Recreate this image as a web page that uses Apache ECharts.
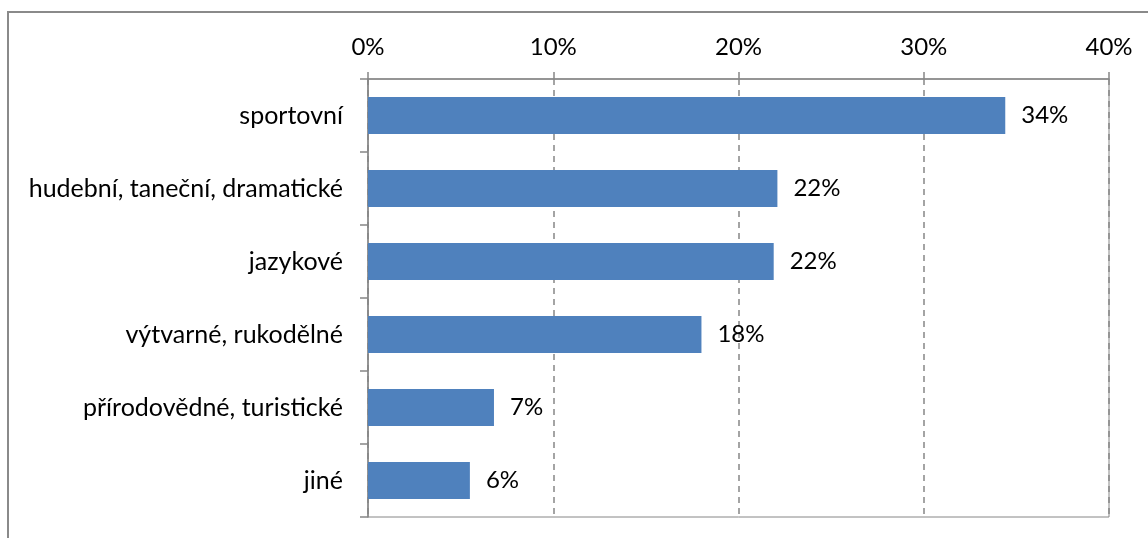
<!DOCTYPE html>
<html>
<head>
<meta charset="utf-8">
<style>
  html, body { margin: 0; padding: 0; background: #fff; }
  #chart { width: 1148px; height: 538px; }
</style>
<script src="https://cdn.jsdelivr.net/npm/echarts@6/dist/echarts.min.js"></script>
</head>
<body>
<div id="chart"></div>
<script>
// Zájmové kroužky – podíl podle typu (v %)
const categories = [
  'sportovní',
  'hudební, taneční, dramatické',
  'jazykové',
  'výtvarné, rukodělné',
  'přírodovědné, turistické',
  'jiné'
];
const shares = [34.4, 22.1, 21.9, 18.0, 6.8, 5.5];
const axisTicks = [0, 10, 20, 30, 40];

const FONT = 'Lato, "Open Sans", sans-serif';
const FONT_SIZE = 24;
const AXIS_GREY = '#868686';

const chart = echarts.init(document.getElementById('chart'), null, { renderer: 'canvas' });

chart.setOption({
  backgroundColor: '#ffffff',
  animation: false,
  graphic: [{
    type: 'rect',
    shape: { x: 8, y: 12, width: 1400, height: 800 },
    style: { fill: 'none', stroke: '#8a8a8a', lineWidth: 2 },
    silent: true
  }],
  grid: {
    left: 368, right: 39, top: 79, bottom: 21,
    show: true, borderColor: AXIS_GREY, borderWidth: 1,
    containLabel: false
  },
  xAxis: {
    type: 'value',
    position: 'top',
    min: axisTicks[0],
    max: axisTicks[axisTicks.length - 1],
    interval: axisTicks[1] - axisTicks[0],
    axisLine: { show: true, lineStyle: { color: AXIS_GREY, width: 1.5 } },
    axisTick: { show: true, inside: false, length: 7, lineStyle: { color: AXIS_GREY, width: 1.5 } },
    splitLine: { show: true, lineStyle: { color: AXIS_GREY, type: [6, 5], width: 1.5 } },
    axisLabel: {
      margin: 20,
      color: '#000',
      fontFamily: FONT,
      fontSize: FONT_SIZE,
      formatter: v => v + '%'
    }
  },
  yAxis: {
    type: 'category',
    inverse: true,
    data: categories,
    axisLine: { show: true, lineStyle: { color: AXIS_GREY, width: 1.5 } },
    axisTick: { show: true, inside: false, length: 8, alignWithLabel: false, lineStyle: { color: AXIS_GREY, width: 1.5 } },
    axisLabel: {
      margin: 25,
      color: '#000',
      fontFamily: FONT,
      fontSize: 25
    },
    splitLine: { show: false }
  },
  series: [{
    type: 'bar',
    data: shares,
    barWidth: '51%',
    itemStyle: { color: '#4f81bd' },
    label: {
      show: true,
      position: 'right',
      distance: 16,
      color: '#000',
      fontFamily: FONT,
      fontSize: FONT_SIZE,
      formatter: p => Math.round(p.value) + '%'
    }
  }]
});
</script>
</body>
</html>
